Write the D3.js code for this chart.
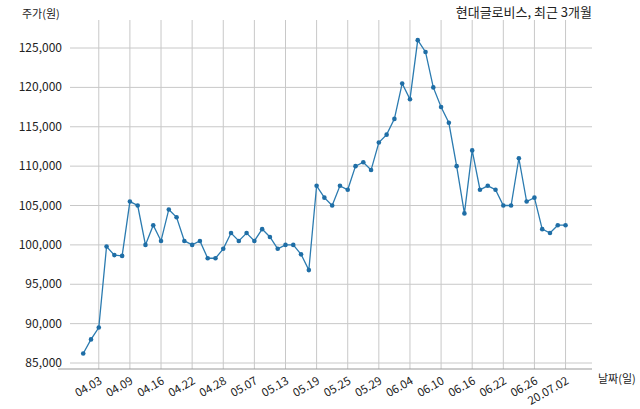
<!DOCTYPE html><html><head><meta charset="utf-8"><script src="https://cdn.jsdelivr.net/npm/d3@7"></script>
<style>body{margin:0;background:#fff}text{font-family:"Noto Sans CJK KR","Noto Sans",sans-serif}</style></head><body><svg width="640" height="409"></svg><script>
const prices=[86200,88000,89500,99800,98700,98600,105500,105000,100000,102500,100500,104500,103500,100500,100000,100500,98300,98300,99500,101500,100500,101500,100500,102000,101000,99500,100000,100000,98800,96800,107500,106000,105000,107500,107000,110000,110500,109500,113000,114000,116000,120500,118500,126000,124500,120000,117500,115500,110000,104000,112000,107000,107500,107000,105000,105000,111000,105500,106000,102000,101500,102500,102500];
const tickIdx=[2,6,10,14,18,22,26,30,34,38,42,46,50,54,58,62];
const tickLabels=["04.03","04.09","04.16","04.22","04.28","05.07","05.13","05.19","05.25","05.29","06.04","06.10","06.16","06.22","06.26","20.07.02"];
const yTicks=[85000,90000,95000,100000,105000,110000,115000,120000,125000];
const svg=d3.select("svg");
const x=d3.scaleLinear().domain([-1.7,65.4]).range([70,592]);
const y=d3.scaleLinear().domain([85000,125000]).range([363,48]);
const plotTop=20,plotBottom=369;
const g=svg.append("g");
g.selectAll(".vg").data(tickIdx).join("line").attr("x1",d=>x(d)).attr("x2",d=>x(d)).attr("y1",plotTop).attr("y2",plotBottom).attr("stroke","#c8c8c8").attr("stroke-width",1);
g.selectAll(".hg").data(yTicks).join("line").attr("x1",70).attr("x2",592).attr("y1",d=>y(d)).attr("y2",d=>y(d)).attr("stroke","#c8c8c8");
g.append("line").attr("x1",58).attr("x2",592).attr("y1",plotBottom).attr("y2",plotBottom).attr("stroke","#999");
g.selectAll(".yl").data(yTicks).join("text").attr("x",62).attr("y",d=>y(d)+4).attr("text-anchor","end").attr("font-size",12).attr("fill","#222").text(d3.format(","));
g.selectAll(".xl").data(tickIdx).join("text").attr("transform",(d)=>`translate(${x(d)+4},${plotBottom+14}) rotate(-30)`).attr("text-anchor","end").attr("font-size",11.5).attr("fill","#222").text((d,i)=>tickLabels[i]);
const line=d3.line().x((d,i)=>x(i)).y(d=>y(d));
g.append("path").attr("d",line(prices)).attr("fill","none").attr("stroke","#2b7bb0").attr("stroke-width",1.3);
g.selectAll(".pt").data(prices).join("circle").attr("cx",(d,i)=>x(i)).attr("cy",d=>y(d)).attr("r",2.3).attr("fill","#1f6ea6");
svg.append("text").attr("x",592).attr("y",17).attr("text-anchor","end").attr("font-size",13).attr("fill","#222").text("현대글로비스, 최근 3개월");
svg.append("text").attr("x",22).attr("y",18).attr("font-size",11).attr("fill","#222").text("주가(원)");
svg.append("text").attr("x",598).attr("y",383).attr("font-size",11).attr("fill","#222").text("날짜(일)");
</script></body></html>
